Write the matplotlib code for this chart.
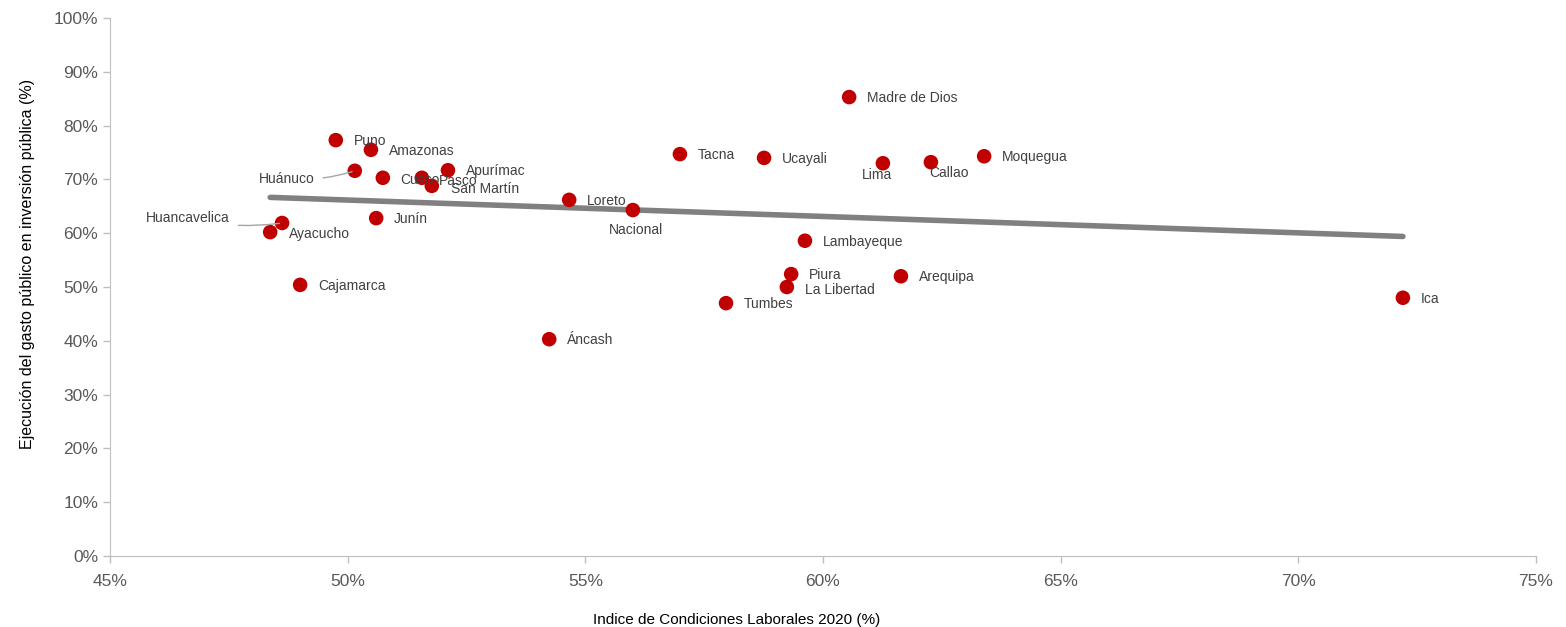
import numpy as np
import matplotlib.pyplot as plt
from matplotlib.ticker import FuncFormatter

plt.rcParams['font.family'] = ['Liberation Sans', 'DejaVu Sans']

# data (%)
regiones = ["Puno", "Amazonas", "Huánuco", "Cusco", "Pasco", "Apurímac", "San Martín",
            "Loreto", "Nacional", "Junín", "Huancavelica", "Ayacucho", "Cajamarca", "Áncash",
            "Tacna", "Ucayali", "Madre de Dios", "Lima", "Callao", "Moquegua",
            "Lambayeque", "Piura", "La Libertad", "Tumbes", "Arequipa", "Ica"]
icl = [49.75, 50.49, 50.15, 50.74, 51.56, 52.11, 51.77,
       54.66, 56.0, 50.6, 48.62, 48.37, 49.0, 54.24,
       56.99, 58.76, 60.55, 61.26, 62.27, 63.39,
       59.62, 59.33, 59.24, 57.96, 61.64, 72.2]
ejecucion = [77.3, 75.5, 71.6, 70.3, 70.3, 71.7, 68.8,
             66.2, 64.3, 62.8, 61.9, 60.2, 50.4, 40.3,
             74.7, 74.0, 85.3, 73.0, 73.2, 74.3,
             58.6, 52.4, 50.0, 47.0, 52.0, 48.0]

# label offsets in pixels (dx, dy, ha, leader)
default_off = (18, -1, "left", False)
offsets = {
    "Huánuco": (-40, -8, "right", True),
    "Huancavelica": (-52, 5, "right", True),
    "Cusco": (17, -2, "left", False),
    "Pasco": (17, -3, "left", False),
    "San Martín": (19, -3, "left", False),
    "Nacional": (3, -20, "center", False),
    "Lima": (-6, -12, "center", False),
    "Callao": (-2, -11, "left", False),
    "Ayacucho": (19, -2, "left", False),
    "La Libertad": (18, -3, "left", False),
}

fig = plt.figure(figsize=(15.66, 6.27), dpi=100)
ax = fig.add_axes([110/1566, 1-556/627, 1426/1566, 538/627])

x = np.array(icl)
y = np.array(ejecucion)

# linear trend
m, b = np.polyfit(x, y, 1)
xs = np.array([x.min(), x.max()])
ax.plot(xs, m*xs + b, color="#808080", lw=4, solid_capstyle="round", zorder=1)

ax.scatter(x, y, s=110, color="#C00000", edgecolor="none", zorder=3)

for name, xi, yi in zip(regiones, x, y):
    dx, dy, ha, leader = offsets.get(name, default_off)
    arrow = dict(arrowstyle="-", color="#A6A6A6", lw=1,
                 connectionstyle="arc3,rad=0.1", shrinkA=4, shrinkB=2) if leader else None
    ax.annotate(name, (xi, yi), xytext=(dx, dy), textcoords="offset pixels",
                ha=ha, va="center", fontsize=10, color="#404040",
                arrowprops=arrow, zorder=4)

ax.set_xlim(45, 75)
ax.set_ylim(0, 100)
ax.set_xticks(np.arange(45, 76, 5))
ax.set_yticks(np.arange(0, 101, 10))
pct = FuncFormatter(lambda v, p: f"{v:.0f}%")
ax.xaxis.set_major_formatter(pct)
ax.yaxis.set_major_formatter(pct)
ax.tick_params(colors="#BFBFBF", labelcolor="#595959", labelsize=12.5, length=5, width=1)
ax.tick_params(axis="x", pad=8)
for s in ["top", "right"]:
    ax.spines[s].set_visible(False)
for s in ["left", "bottom"]:
    ax.spines[s].set_color("#BFBFBF")

fig.text(737/1566, 1-620/627, "Indice de Condiciones Laborales 2020 (%)",
         fontsize=11, ha="center", va="center")
fig.text(28/1566, 1-264/627, "Ejecución del gasto público en inversión pública (%)",
         fontsize=11.5, ha="center", va="center", rotation=90)

plt.savefig("out.png", dpi=100)
plt.close()
